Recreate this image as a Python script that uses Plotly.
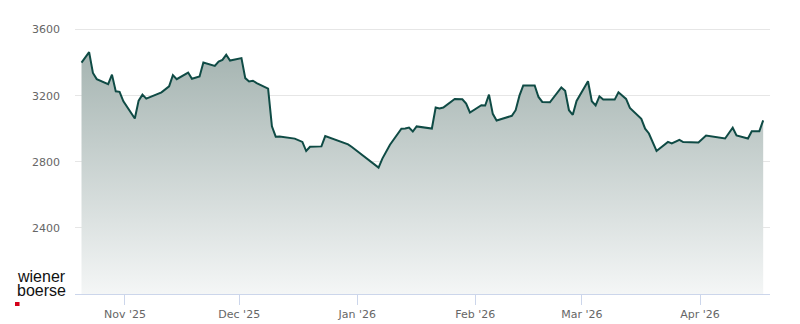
import pandas as pd
import plotly.graph_objects as go

# trading-day closing values
dates = [
    "2025-10-20", "2025-10-22", "2025-10-23", "2025-10-24", "2025-10-27", "2025-10-28",
    "2025-10-29", "2025-10-30", "2025-10-31", "2025-11-03", "2025-11-04", "2025-11-05",
    "2025-11-06", "2025-11-10", "2025-11-12", "2025-11-13", "2025-11-14", "2025-11-17",
    "2025-11-18", "2025-11-20", "2025-11-21", "2025-11-24", "2025-11-25", "2025-11-26",
    "2025-11-27", "2025-11-28", "2025-12-01", "2025-12-02", "2025-12-03", "2025-12-04",
    "2025-12-05", "2025-12-08", "2025-12-09", "2025-12-10", "2025-12-11", "2025-12-15",
    "2025-12-17", "2025-12-18", "2025-12-19", "2025-12-22", "2025-12-23", "2025-12-29",
    "2025-12-30", "2026-01-06", "2026-01-07", "2026-01-09", "2026-01-12", "2026-01-13",
    "2026-01-14", "2026-01-15", "2026-01-16", "2026-01-20", "2026-01-21", "2026-01-22",
    "2026-01-23", "2026-01-26", "2026-01-28", "2026-01-29", "2026-01-30", "2026-02-02",
    "2026-02-03", "2026-02-04", "2026-02-05", "2026-02-06", "2026-02-10", "2026-02-11",
    "2026-02-12", "2026-02-13", "2026-02-16", "2026-02-17", "2026-02-18", "2026-02-20",
    "2026-02-23", "2026-02-24", "2026-02-25", "2026-02-26", "2026-02-27", "2026-03-02",
    "2026-03-03", "2026-03-04", "2026-03-05", "2026-03-06", "2026-03-09", "2026-03-10",
    "2026-03-12", "2026-03-13", "2026-03-16", "2026-03-17", "2026-03-18", "2026-03-20",
    "2026-03-23", "2026-03-24", "2026-03-26", "2026-03-27", "2026-03-31", "2026-04-02",
    "2026-04-07", "2026-04-09", "2026-04-10", "2026-04-13", "2026-04-14", "2026-04-16",
    "2026-04-17",
]
values = [
    3400, 3463, 3337, 3300, 3270, 3327,
    3226, 3223, 3166, 3062, 3170, 3206,
    3182, 3220, 3256, 3324, 3300, 3340,
    3302, 3316, 3400, 3380, 3406, 3416,
    3447, 3412, 3427, 3306, 3286, 3290,
    3276, 3242, 3015, 2952, 2953, 2940,
    2920, 2865, 2891, 2893, 2955, 2905,
    2889, 2765, 2819, 2903, 3000, 3001,
    3007, 2983, 3014, 3001, 3128, 3122,
    3128, 3180, 3178, 3152, 3098, 3142,
    3140, 3206, 3090, 3050, 3078, 3112,
    3200, 3262, 3262, 3192, 3162, 3160,
    3250, 3230, 3112, 3084, 3168, 3287,
    3166, 3141, 3196, 3176, 3176, 3220,
    3180, 3126, 3060, 3000, 2971, 2865,
    2920, 2911, 2933, 2919, 2917, 2959,
    2941, 3006, 2959, 2941, 2985, 2985,
    3050,
]
y_ticks = [2400, 2800, 3200, 3600]

# values are stamped at the afternoon close
x = pd.to_datetime(dates) + pd.Timedelta(hours=14)

fig = go.Figure()
fig.add_trace(go.Scatter(
    x=x, y=values, mode="lines",
    line=dict(color="#0f4b45", width=2),
    fill="tozeroy",
    fillgradient=dict(type="vertical",
                      colorscale=[[0, "#f4f6f6"], [1, "#a5b4b1"]],
                      start=2000, stop=3463),
    hoverinfo="skip",
))

fig.update_layout(
    width=800, height=324,
    margin=dict(l=75, r=30, t=13, b=30, autoexpand=False),
    paper_bgcolor="white", plot_bgcolor="white",
    showlegend=False,
    font=dict(family="DejaVu Sans", size=11, color="#666666"),
    xaxis=dict(
        type="date", automargin=False,
        range=["2025-10-18 21:00", "2026-04-19 09:00"],
        tick0="2025-11-01", dtick="M1", tickformat="%b '%y",
        showgrid=False, zeroline=False,
        showline=True, linecolor="#ccd6eb", linewidth=1,
        ticks="outside", ticklen=10, tickcolor="#ccd6eb", tickwidth=1,
        tickfont=dict(size=11, color="#666666"),
    ),
    yaxis=dict(
        range=[2000, 3700], automargin=False,
        tickvals=y_ticks, ticktext=[str(v) for v in y_ticks],
        showgrid=True, gridcolor="#e6e6e6", gridwidth=1,
        zeroline=False, showline=False, ticks="",
        ticklabelstandoff=14,
        tickfont=dict(size=11, color="#666666"),
    ),
)

# wiener boerse logo
fig.add_annotation(xref="paper", yref="paper", x=-0.0863, y=0.0605,
                   xanchor="left", yanchor="middle", showarrow=False,
                   text="wiener", font=dict(family="Liberation Sans", size=16, color="#111111"))
fig.add_annotation(xref="paper", yref="paper", x=-0.0863, y=0.0107,
                   xanchor="left", yanchor="middle", showarrow=False,
                   text="boerse", font=dict(family="Liberation Sans", size=16, color="#111111"))
fig.add_shape(type="rect", xref="paper", yref="paper",
              x0=-0.0863, x1=-0.0798, y0=-0.0427, y1=-0.0285,
              fillcolor="#d40019", line=dict(width=0))

fig.write_html("out.html")
